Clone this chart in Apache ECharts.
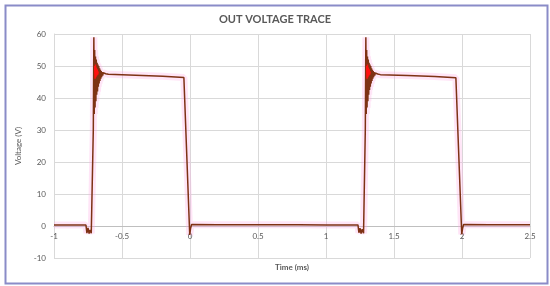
<!DOCTYPE html>
<html>
<head>
<meta charset="utf-8">
<script src="https://cdn.jsdelivr.net/npm/echarts@6/dist/echarts.min.js"></script>
<style>
  html, body { margin: 0; padding: 0; background: #fff; }
  #chart { width: 550px; height: 286px; }
</style>
</head>
<body>
<div id="chart"></div>
<script>
// time in ms, voltage in V
var traceTime = [
  -1.0, -0.9, -0.8, -0.765, -0.758, -0.75, -0.742, -0.735, -0.726, -0.716, -0.711,
  -0.707, -0.704, -0.701, -0.698, -0.695, -0.692, -0.689, -0.686, -0.683, -0.680,
  -0.677, -0.674, -0.671, -0.668, -0.665, -0.662, -0.659, -0.656, -0.653, -0.650,
  -0.646, -0.642, -0.638, -0.632, -0.62, -0.6, -0.4, -0.2, -0.045,
  -0.002, 0.004, 0.012, 0.2, 0.5, 0.8, 1.0, 1.235,
  1.242, 1.25, 1.258, 1.266, 1.276, 1.285, 1.289,
  1.293, 1.296, 1.299, 1.302, 1.305, 1.308, 1.311, 1.314, 1.317, 1.320,
  1.323, 1.326, 1.329, 1.332, 1.335, 1.338, 1.341, 1.344, 1.347, 1.350,
  1.354, 1.358, 1.362, 1.368, 1.38, 1.4, 1.6, 1.8, 1.955,
  1.998, 2.004, 2.012, 2.2, 2.5
];
var traceVolt = [
  0.3, 0.3, 0.3, 0.3, -2.2, -0.6, -2.4, -1.2, -2.3, -1.8, 30,
  59, 35, 55, 37, 53, 39, 52, 41, 51, 42,
  50.5, 43.5, 50, 44.5, 49.3, 45.3, 48.8, 46, 48.4, 46.5,
  48.1, 47, 47.9, 47.4, 47.6, 47.4, 47.1, 46.8, 46.4,
  -2.8, -0.8, 0.5, 0.4, 0.4, 0.4, 0.35, 0.35,
  -2.1, -0.7, -2.4, -1.0, -2.3, -1.9, 30,
  59, 35, 55, 37, 53, 39, 52, 41, 51, 42.5,
  50.5, 43.5, 50, 44.5, 49.3, 45.3, 48.8, 46, 48.4, 46.5,
  48.1, 47, 47.8, 47.3, 47.5, 47.3, 47, 46.7, 46.3,
  -2.6, -0.8, 0.5, 0.4, 0.4
];
// bright red overlay on the ringing
var ringTime = [
  -0.701, -0.698, -0.695, -0.692, -0.689, -0.686, -0.683, -0.679, -0.675,
  1.299, 1.302, 1.305, 1.308, 1.311, 1.314, 1.317, 1.321, 1.325
];
var ringVolt = [
  50, 46, 50.5, 46.5, 49.5, 47, 49, 47.3, 48.3,
  50, 46, 50.5, 46.5, 49.5, 47, 49, 47.3, 48.3
];
var xTicks = { min: -1, max: 2.5, step: 0.5 };
var yTicks = { min: -10, max: 60, step: 10 };

function pairs(xs, ys) {
  return xs.map(function (x, i) { return [x, ys[i]]; });
}
var tracePts = pairs(traceTime, traceVolt);
var ringMain = pairs(ringTime.slice(0, 9), ringVolt.slice(0, 9));
var ringSecond = pairs(ringTime.slice(9), ringVolt.slice(9));

var grey = '#595959';
var font = 'Lato, "Open Sans", sans-serif';

var chart = echarts.init(document.getElementById('chart'));
chart.setOption({
  animation: false,
  backgroundColor: '#fff',
  title: {
    text: 'OUT VOLTAGE TRACE',
    left: 'center', top: 9,
    textStyle: { color: grey, fontSize: 11, fontWeight: 'bold', fontFamily: font }
  },
  graphic: [{
    type: 'rect', left: 3, top: 3,
    shape: { width: 542, height: 278 },
    style: { fill: 'none', stroke: '#8a8cc8', lineWidth: 2 }
  }],
  grid: { left: 54, right: 20, top: 34, bottom: 28, outerBoundsMode: 'none' },
  xAxis: {
    type: 'value',
    min: xTicks.min, max: xTicks.max, interval: xTicks.step,
    offset: -32,
    name: 'Time (ms)', nameLocation: 'middle', nameGap: 37,
    nameTextStyle: { color: grey, fontSize: 8, fontWeight: 'bold', fontFamily: font },
    axisLine: { onZero: false, lineStyle: { color: '#bfbfbf' } },
    axisTick: { show: false },
    axisLabel: { color: grey, fontSize: 8, margin: 6, fontFamily: font },
    splitLine: { show: true, lineStyle: { color: '#d9d9d9' } }
  },
  yAxis: {
    type: 'value',
    min: yTicks.min, max: yTicks.max, interval: yTicks.step,
    name: 'Voltage (V)', nameLocation: 'middle', nameGap: 30,
    nameTextStyle: { color: grey, fontSize: 8, fontFamily: font },
    axisLine: { show: true, onZero: false, lineStyle: { color: '#d9d9d9' } },
    axisTick: { show: false },
    axisLabel: { color: grey, fontSize: 8, margin: 8, fontFamily: font },
    splitLine: { show: true, lineStyle: { color: '#d9d9d9' } }
  },
  series: [
    {
      type: 'line', data: tracePts, symbol: 'none', silent: true,
      lineStyle: { color: 'rgba(255,170,230,0.3)', width: 7 }
    },
    {
      type: 'line', data: tracePts, symbol: 'none',
      lineStyle: { color: '#7e3214', width: 1.5 }
    },
    {
      type: 'line', data: ringMain, symbol: 'none',
      lineStyle: { color: '#ff1010', width: 1.5 }
    },
    {
      type: 'line', data: ringSecond, symbol: 'none',
      lineStyle: { color: '#ff1010', width: 1.5 }
    }
  ]
});
</script>
</body>
</html>
